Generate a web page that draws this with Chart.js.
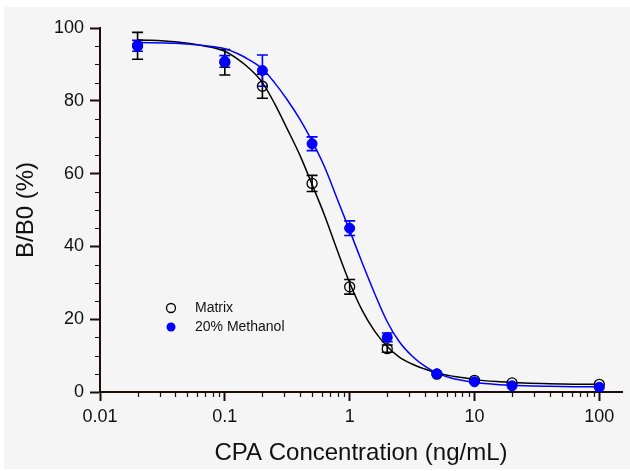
<!DOCTYPE html>
<html>
<head>
<meta charset="utf-8">
<script src="https://cdn.jsdelivr.net/npm/chart.js@4.4.1/dist/chart.umd.min.js"></script>
<style>
  html, body { margin: 0; padding: 0; background: #fff; }
  #wrap { width: 630px; height: 471px; }
</style>
</head>
<body>
<div id="wrap"><canvas id="chart" width="630" height="471"></canvas></div>
<script>
// measured points (mean +/- sd)
const concentrations = [0.02, 0.1, 0.2, 0.5, 1, 2, 5, 10, 20, 100];
const matrixMean = [95.1, 90.6, 84.0, 57.3, 28.9, 11.9, 4.9, 3.2, 2.5, 2.1];
const matrixSd = [3.7, 3.5, 3.3, 2.2, 2.0, 1.0, 0, 0, 0, 0];
const methanolMean = [95.1, 90.8, 88.3, 68.2, 45.0, 15.0, 5.0, 2.8, 1.7, 1.3];
const methanolSd = [1.5, 1.6, 4.3, 1.9, 2.0, 1.2, 0, 0, 0, 0];

// fitted curves
const fitX = [0.02, 0.04, 0.07, 0.1, 0.126, 0.158, 0.2, 0.25, 0.316, 0.4, 0.5, 0.63, 0.79, 1,
    1.26, 1.58, 2, 2.5, 3.16, 4, 5, 6.3, 7.9, 10, 16, 25, 40, 63, 100];
const matrixFit = [96.8, 96.2, 95.0, 93.6, 91.5, 88.8, 85.0, 79.3, 72.3, 65.0, 57.0, 48.5, 39.2, 30.0,
    22.4, 16.8, 12.5, 9.6, 7.7, 6.3, 5.2, 4.5, 4.0, 3.4, 2.8, 2.45, 2.25, 2.15, 2.1];
const methanolFit = [96.0, 95.8, 95.1, 94.3, 93.0, 91.2, 88.8, 85.0, 80.3, 74.9, 68.9, 61.8, 53.3, 44.4,
    35.5, 27.2, 19.3, 13.8, 9.9, 7.1, 5.2, 4.0, 3.2, 2.6, 2.0, 1.7, 1.55, 1.45, 1.4];

const xTickLabels = [0.01, 0.1, 1, 10, 100];
const yTickLabels = [0, 20, 40, 60, 80, 100];

const axisColor = '#1d0c0c';
const textColor = '#111111';
const fontFamily = "'Liberation Sans', Arial, sans-serif";

function toPoints(xs, ys) {
    return xs.map((x, i) => ({ x: x, y: ys[i] }));
}

// background, error bars, minor ticks and legend
const decorations = {
    id: 'decorations',
    beforeDraw(chart) {
        const ctx = chart.ctx;
        ctx.save();
        ctx.fillStyle = '#ffffff';
        ctx.fillRect(0, 0, chart.width, chart.height);
        ctx.fillStyle = '#f5f5f5';
        ctx.fillRect(4, 7, chart.width - 4, chart.height - 9);
        ctx.restore();
    },
    beforeDatasetsDraw(chart) {
        const ctx = chart.ctx;
        const xs = chart.scales.x;
        const ys = chart.scales.y;
        const drawBars = (means, sds, color) => {
            ctx.strokeStyle = color;
            ctx.lineWidth = 1.6;
            concentrations.forEach((c, i) => {
                if (!sds[i]) return;
                const x = xs.getPixelForValue(c);
                const top = ys.getPixelForValue(means[i] + sds[i]);
                const bot = ys.getPixelForValue(means[i] - sds[i]);
                ctx.beginPath();
                ctx.moveTo(x, top); ctx.lineTo(x, bot);
                ctx.moveTo(x - 5.5, top); ctx.lineTo(x + 5.5, top);
                ctx.moveTo(x - 5.5, bot); ctx.lineTo(x + 5.5, bot);
                ctx.stroke();
            });
        };
        ctx.save();
        drawBars(matrixMean, matrixSd, '#000000');
        drawBars(methanolMean, methanolSd, '#0000ff');
        ctx.restore();
    },
    afterDraw(chart) {
        const ctx = chart.ctx;
        const xs = chart.scales.x;
        const ys = chart.scales.y;
        const area = chart.chartArea;
        ctx.save();
        ctx.strokeStyle = axisColor;
        ctx.lineWidth = 1.2;
        ctx.beginPath();
        // minor x ticks 2..9 in each decade
        xTickLabels.slice(0, -1).forEach(d => {
            for (let k = 2; k <= 9; k++) {
                const x = Math.round(xs.getPixelForValue(d * k)) + 0.5;
                ctx.moveTo(x, area.bottom);
                ctx.lineTo(x, area.bottom + 5);
            }
        });
        // minor y ticks every 5
        for (let v = 5; v < 100; v += 5) {
            if (v % 20 === 0) continue;
            const y = Math.round(ys.getPixelForValue(v)) + 0.5;
            ctx.moveTo(area.left, y);
            ctx.lineTo(area.left - 5, y);
        }
        ctx.stroke();

        // legend
        const lx = 171, ly1 = 308, ly2 = 327;
        ctx.lineWidth = 1.3;
        ctx.strokeStyle = '#000000';
        ctx.beginPath();
        ctx.arc(lx, ly1, 4.5, 0, Math.PI * 2);
        ctx.stroke();
        ctx.fillStyle = '#0000ff';
        ctx.beginPath();
        ctx.arc(lx, ly2, 4.5, 0, Math.PI * 2);
        ctx.fill();
        ctx.fillStyle = textColor;
        ctx.font = '14px ' + fontFamily;
        ctx.textBaseline = 'middle';
        ctx.textAlign = 'left';
        ctx.fillText('Matrix', 195, ly1);
        ctx.fillText('20% Methanol', 195, ly2);
        ctx.restore();
    }
};

new Chart(document.getElementById('chart'), {
    type: 'scatter',
    data: {
        datasets: [
            {
                label: '20% Methanol',
                data: toPoints(concentrations, methanolMean),
                pointRadius: 5,
                pointBackgroundColor: '#0000ff',
                pointBorderColor: '#0000ff',
                pointBorderWidth: 1,
                order: 0
            },
            {
                label: 'Matrix',
                data: toPoints(concentrations, matrixMean),
                pointRadius: 5,
                pointBackgroundColor: 'rgba(0,0,0,0)',
                pointBorderColor: '#000000',
                pointBorderWidth: 1.3,
                order: 1
            },
            {
                label: '20% Methanol fit',
                data: toPoints(fitX, methanolFit),
                showLine: true,
                borderColor: '#0000ff',
                borderWidth: 1.5,
                pointRadius: 0,
                cubicInterpolationMode: 'monotone',
                order: 2
            },
            {
                label: 'Matrix fit',
                data: toPoints(fitX, matrixFit),
                showLine: true,
                borderColor: '#000000',
                borderWidth: 1.5,
                pointRadius: 0,
                cubicInterpolationMode: 'monotone',
                order: 3
            }
        ]
    },
    options: {
        responsive: false,
        animation: false,
        devicePixelRatio: 1,
        layout: { padding: { left: 0, right: 8, top: 28, bottom: 0 } },
        plugins: {
            legend: { display: false },
            tooltip: { enabled: false }
        },
        scales: {
            x: {
                type: 'logarithmic',
                min: 0.01,
                max: 152,
                afterBuildTicks: s => { s.ticks = xTickLabels.map(v => ({ value: v, major: true })); },
                afterFit: s => { s.height = 79; },
                ticks: {
                    callback: v => String(v),
                    autoSkip: false,
                    maxRotation: 0,
                    padding: 5,
                    color: textColor,
                    font: { family: fontFamily, size: 18 }
                },
                grid: { drawOnChartArea: false, tickLength: 9, tickWidth: 2, tickColor: axisColor },
                border: { color: axisColor, width: 2 },
                title: {
                    display: true,
                    text: 'CPA Concentration (ng/mL)',
                    color: textColor,
                    font: { family: fontFamily, size: 24 },
                    padding: { top: 0, bottom: 3 }
                }
            },
            y: {
                min: 0,
                max: 100,
                afterBuildTicks: s => { s.ticks = yTickLabels.map(v => ({ value: v })); },
                afterFit: s => { s.width = 100; },
                ticks: {
                    padding: 6,
                    color: textColor,
                    font: { family: fontFamily, size: 18 }
                },
                grid: { drawOnChartArea: false, tickLength: 10, tickWidth: 2, tickColor: axisColor },
                border: { color: axisColor, width: 2 },
                title: {
                    display: true,
                    text: 'B/B0 (%)',
                    color: textColor,
                    font: { family: fontFamily, size: 24 },
                    padding: { top: 12, bottom: 0 }
                }
            }
        }
    },
    plugins: [decorations]
});
</script>
</body>
</html>
